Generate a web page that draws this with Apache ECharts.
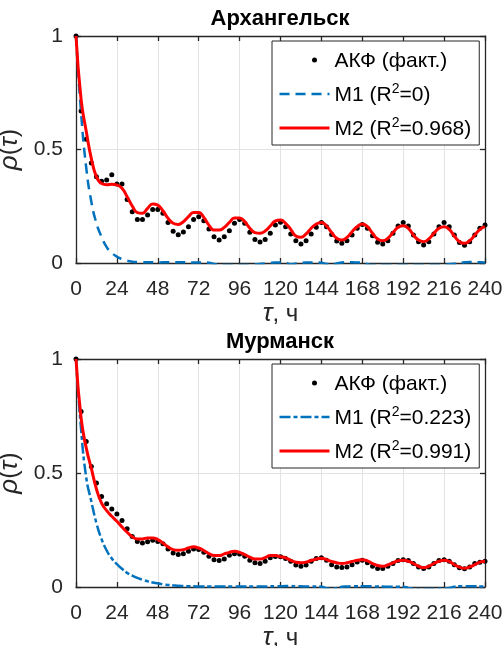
<!DOCTYPE html>
<html><head><meta charset="utf-8">
<script src="https://cdn.jsdelivr.net/npm/echarts@6/dist/echarts.min.js"></script>
<style>html,body{margin:0;padding:0;background:#fff}#c{width:504px;height:646px}</style>
</head><body><div id="c"></div>
<script>
// ---- data ----
const lagStep = 3, lagMax = 240;
const lags = []; for (let t = 0; t <= lagMax; t += lagStep) lags.push(t);
const xMin = 0, xMax = 240, xInterval = 24;
const yMin = 0, yMax = 1, yInterval = 0.5;
const titles = ['Архангельск', 'Мурманск'];
const acfName = 'АКФ (факт.)';
const m1Names = ['M1 (R²=0)', 'M1 (R²=0.223)'];
const m2Names = ['M2 (R²=0.968)', 'M2 (R²=0.991)'];

const archACF = [
 1.0, 0.67, 0.545, 0.44, 0.38, 0.36, 0.366, 0.389, 0.348,
 0.348, 0.28, 0.226, 0.192, 0.192, 0.211, 0.236, 0.236, 0.219,
 0.178, 0.14, 0.125, 0.137, 0.16, 0.192, 0.204, 0.186, 0.15,
 0.116, 0.101, 0.116, 0.142, 0.175, 0.192, 0.175, 0.135, 0.104,
 0.093, 0.104, 0.131, 0.167, 0.179, 0.16, 0.128, 0.098, 0.084,
 0.098, 0.128, 0.157, 0.178, 0.16, 0.126, 0.097, 0.087, 0.098,
 0.123, 0.153, 0.17, 0.153, 0.12, 0.091, 0.084, 0.098, 0.131,
 0.163, 0.178, 0.163, 0.123, 0.094, 0.079, 0.094, 0.128, 0.16,
 0.178, 0.16, 0.123, 0.09, 0.078, 0.094, 0.123, 0.153, 0.167];
const archM2 = [
 1.0, 0.72, 0.58, 0.46, 0.38, 0.35, 0.345, 0.347, 0.344,
 0.329, 0.292, 0.251, 0.222, 0.219, 0.241, 0.26, 0.255, 0.23,
 0.197, 0.175, 0.17, 0.182, 0.204, 0.223, 0.223, 0.201, 0.167,
 0.145, 0.145, 0.157, 0.179, 0.198, 0.198, 0.182, 0.153, 0.134,
 0.131, 0.141, 0.163, 0.185, 0.189, 0.175, 0.148, 0.119, 0.113,
 0.128, 0.153, 0.172, 0.178, 0.163, 0.134, 0.109, 0.101, 0.113,
 0.138, 0.16, 0.172, 0.16, 0.131, 0.106, 0.098, 0.109, 0.134,
 0.157, 0.164, 0.153, 0.123, 0.101, 0.094, 0.106, 0.131, 0.153,
 0.16, 0.148, 0.119, 0.094, 0.087, 0.098, 0.123, 0.148, 0.16];
const archM1 = [
 1.0, 0.66, 0.42, 0.27, 0.175, 0.115, 0.07, 0.045, 0.028,
 0.017, 0.01, 0.006, 0.004, 0.003, 0.003, 0.003, 0.002, 0.003,
 0.003, 0.003, 0.003, 0.003, 0.003, 0.002, 0.002, 0.002, 0.001,
 -0.004, -0.008, -0.009, -0.009, -0.009, -0.009, -0.009, -0.008, -0.006,
 -0.004, -0.002, 0.001, 0.002, 0.002, 0.001, -0.006, -0.002, 0.001,
 0.002, 0.002, 0.002, 0.001, -0.004, -0.006, -0.002, 0.002, 0.003,
 0.003, 0.002, 0.001, -0.005, -0.009, -0.009, -0.009, -0.009, -0.009,
 -0.009, -0.009, -0.009, -0.009, -0.009, -0.009, -0.009, -0.009, -0.009,
 -0.008, -0.006, -0.003, 0.001, 0.003, 0.004, 0.004, 0.003, 0.002];

const murmACF = [
 1.0, 0.77, 0.638, 0.529, 0.456, 0.397, 0.365, 0.342, 0.32,
 0.292, 0.255, 0.222, 0.2, 0.193, 0.198, 0.205, 0.2, 0.19,
 0.167, 0.149, 0.142, 0.146, 0.157, 0.167, 0.164, 0.152, 0.135,
 0.12, 0.116, 0.123, 0.139, 0.146, 0.145, 0.135, 0.117, 0.106,
 0.103, 0.113, 0.128, 0.134, 0.133, 0.125, 0.113, 0.097, 0.091,
 0.096, 0.113, 0.125, 0.128, 0.117, 0.098, 0.088, 0.085, 0.088,
 0.098, 0.11, 0.117, 0.106, 0.091, 0.081, 0.081, 0.091, 0.103,
 0.116, 0.12, 0.116, 0.103, 0.088, 0.081, 0.088, 0.103, 0.116,
 0.12, 0.113, 0.098, 0.084, 0.08, 0.088, 0.103, 0.109, 0.113];
const murmM2 = [
 1.0, 0.74, 0.61, 0.52, 0.43, 0.368, 0.335, 0.31, 0.288,
 0.263, 0.24, 0.22, 0.211, 0.211, 0.215, 0.215, 0.208, 0.193,
 0.176, 0.164, 0.161, 0.164, 0.171, 0.176, 0.171, 0.16, 0.147,
 0.138, 0.138, 0.145, 0.152, 0.157, 0.152, 0.142, 0.131, 0.123,
 0.123, 0.129, 0.138, 0.138, 0.133, 0.128, 0.117, 0.109, 0.106,
 0.109, 0.116, 0.123, 0.126, 0.12, 0.112, 0.106, 0.103, 0.106,
 0.112, 0.117, 0.12, 0.115, 0.103, 0.094, 0.091, 0.097, 0.106,
 0.115, 0.117, 0.113, 0.103, 0.091, 0.085, 0.091, 0.103, 0.113,
 0.117, 0.112, 0.098, 0.087, 0.082, 0.088, 0.098, 0.109, 0.113];
const murmM1 = [
 1.0, 0.69, 0.48, 0.375, 0.28, 0.21, 0.16, 0.125, 0.1,
 0.08, 0.062, 0.05, 0.04, 0.032, 0.025, 0.02, 0.016, 0.012,
 0.009, 0.007, 0.005, 0.004, 0.003, 0.003, 0.002, 0.002, 0.002,
 0.002, 0.002, 0.002, 0.002, 0.002, 0.002, 0.002, 0.002, 0.002,
 0.002, 0.002, 0.003, 0.003, 0.003, 0.004, 0.004, 0.003, 0.003,
 0.002, 0.002, 0.002, 0.001, -0.005, -0.008, -0.004, 0.001, 0.002,
 0.003, 0.003, 0.003, 0.003, 0.003, 0.002, 0.002, 0.001, 0.001,
 0.001, 0.001, -0.004, -0.008, -0.009, -0.009, -0.009, -0.009, -0.008,
 -0.006, -0.004, 0.001, 0.003, 0.003, 0.003, 0.003, 0.002, 0.002];

// ---- chart ----
const FONT = '"Liberation Sans", Arial, Helvetica, sans-serif';
const AX = '#262626';
const BLUE = '#0072BD', RED = '#FF0000';
const pairs = arr => lags.map((t, i) => [t, arr[i]]);

const grids = [
  {left: 76, top: 36, width: 409, height: 227, containLabel: false, outerBoundsMode: 'none'},
  {left: 76, top: 359, width: 409, height: 228, containLabel: false, outerBoundsMode: 'none'}
];
const xAxes = [], yAxes = [], series = [], legends = [], titleOpts = [];
const axisLineStyle = {color: AX, width: 1.3};
const hiddenSym = {color: 'rgba(0,0,0,0)', borderColor: 'rgba(0,0,0,0)', borderWidth: 0};

grids.forEach((g, gi) => {
  xAxes.push({
    gridIndex: gi, type: 'value', min: xMin, max: xMax, interval: xInterval, position: 'bottom',
    axisLine: {show: true, onZero: false, lineStyle: axisLineStyle},
    axisTick: {show: true, inside: true, length: 5, lineStyle: axisLineStyle},
    axisLabel: {show: true, margin: 16, fontSize: 21, color: AX, fontFamily: FONT},
    splitLine: {show: true, lineStyle: {color: '#e3e3e3', width: 1}},
    name: '{i|τ}{n|, ч}', nameLocation: 'middle', nameGap: 33,
    nameTextStyle: {rich: {
      i: {fontFamily: FONT, fontStyle: 'italic', fontSize: 26, color: AX},
      n: {fontFamily: FONT, fontSize: 24, color: AX}
    }}
  });
  xAxes.push({
    gridIndex: gi, type: 'value', min: xMin, max: xMax, interval: xInterval, position: 'top',
    axisLine: {show: true, onZero: false, lineStyle: axisLineStyle},
    axisTick: {show: true, inside: true, length: 5, lineStyle: axisLineStyle},
    axisLabel: {show: false}, splitLine: {show: false}
  });
  yAxes.push({
    gridIndex: gi, type: 'value', min: yMin, max: yMax, interval: yInterval, position: 'left',
    axisLine: {show: true, onZero: false, lineStyle: axisLineStyle},
    axisTick: {show: true, inside: true, length: 5, lineStyle: axisLineStyle},
    axisLabel: {show: true, margin: 13, fontSize: 21, color: AX, fontFamily: FONT, padding: [7, 0, 0, 0]},
    splitLine: {show: true, lineStyle: {color: '#e3e3e3', width: 1}},
    name: '{i|ρ}{n|(}{i|τ}{n|)}', nameLocation: 'middle', nameGap: 43, nameRotate: 90,
    nameTextStyle: {rich: {
      i: {fontFamily: FONT, fontStyle: 'italic', fontSize: 26, color: AX},
      n: {fontFamily: FONT, fontSize: 25, color: AX}
    }}
  });
  yAxes.push({
    gridIndex: gi, type: 'value', min: yMin, max: yMax, interval: yInterval, position: 'right',
    axisLine: {show: true, onZero: false, lineStyle: axisLineStyle},
    axisTick: {show: true, inside: true, length: 5, lineStyle: axisLineStyle},
    axisLabel: {show: false}, splitLine: {show: false}
  });
  titleOpts.push({
    text: titles[gi], left: 280, top: g.top - 28, textAlign: 'center', padding: 0,
    textStyle: {fontSize: 22, fontWeight: 'bold', color: '#000', fontFamily: FONT}
  });
  legends.push({
    orient: 'vertical', left: 272, top: g.top + 5, padding: [9, 8, 5, 6],
    itemGap: 10, itemWidth: 50, itemHeight: 20, selectedMode: false,
    backgroundColor: '#fff', borderColor: AX, borderWidth: 1,
    formatter: name => {
      const k = name.indexOf('²');
      if (k < 0) return '{n|' + name + '}';
      return '{n|' + name.slice(0, k) + '}{s|2}{n|' + name.slice(k + 1) + '}';
    },
    textStyle: {fontFamily: FONT, fontSize: 21, color: '#000', rich: {
      n: {fontFamily: FONT, fontSize: 21, color: '#000', lineHeight: 24, verticalAlign: 'bottom'},
      s: {fontFamily: FONT, fontSize: 14, color: '#000', lineHeight: 14, verticalAlign: 'top'}
    }},
    data: [
      {name: acfName, icon: 'path://M0,0 M100,40 M65,20 a5,5 0 1,0 10,0 a5,5 0 1,0 -10,0'},
      {name: m1Names[gi], itemStyle: hiddenSym, lineStyle: {width: 2.5}},
      {name: m2Names[gi], itemStyle: hiddenSym, lineStyle: {width: 3}}
    ]
  });
});

const sets = [
  {acf: archACF, m1: archM1, m2: archM2, dash: [10, 6]},
  {acf: murmACF, m1: murmM1, m2: murmM2, dash: [11, 3, 4, 3]}
];
sets.forEach((s, gi) => {
  series.push({
    name: acfName, type: 'scatter', xAxisIndex: gi * 2, yAxisIndex: gi * 2,
    data: pairs(s.acf), symbol: 'circle', symbolSize: 5, itemStyle: {color: '#000', opacity: 1}, z: 2
  });
  series.push({
    name: m1Names[gi], type: 'line', xAxisIndex: gi * 2, yAxisIndex: gi * 2,
    data: pairs(s.m1), symbol: 'none', smooth: true, clip: true,
    lineStyle: {color: BLUE, width: 2.5, type: s.dash}, itemStyle: {color: BLUE}, z: 3
  });
  series.push({
    name: m2Names[gi], type: 'line', xAxisIndex: gi * 2, yAxisIndex: gi * 2,
    data: pairs(s.m2), symbol: 'none', smooth: true, clip: true,
    lineStyle: {color: RED, width: 3}, itemStyle: {color: RED}, z: 4
  });
});

const chart = echarts.init(document.getElementById('c'), null, {renderer: 'canvas'});
chart.setOption({
  animation: false, backgroundColor: '#fff',
  title: titleOpts, grid: grids, xAxis: xAxes, yAxis: yAxes, legend: legends, series: series
});
</script></body></html>
